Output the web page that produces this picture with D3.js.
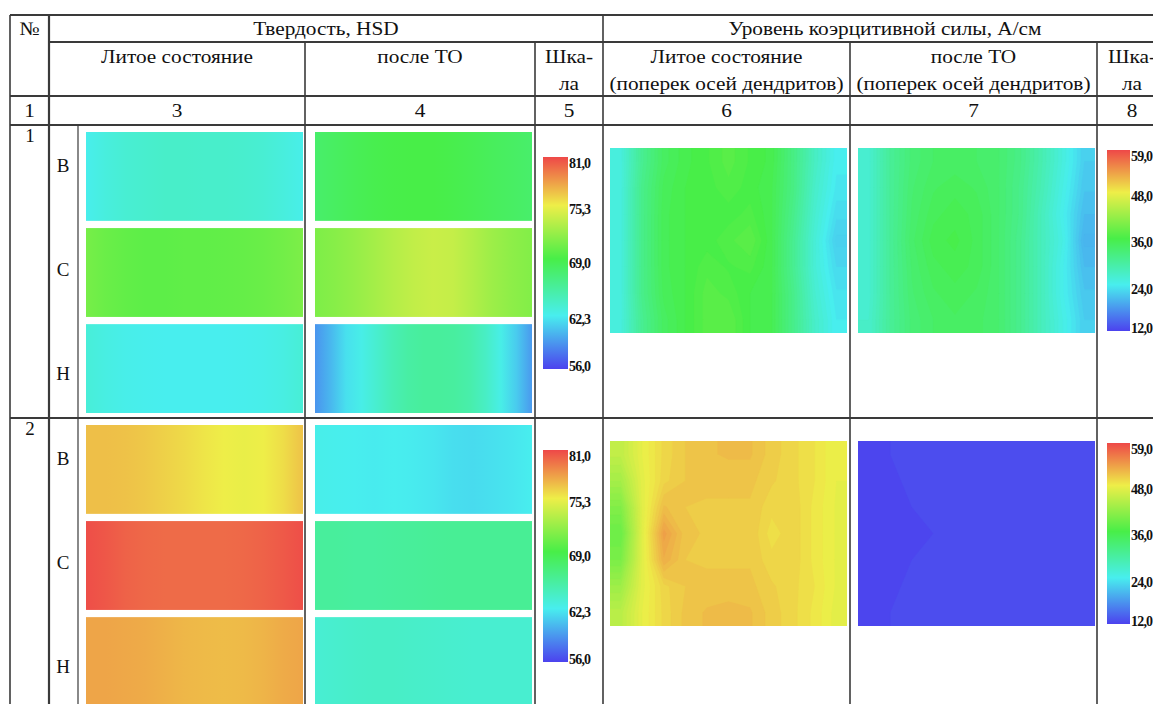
<!DOCTYPE html>
<html>
<head>
<meta charset="utf-8">
<script src="https://cdn.jsdelivr.net/npm/d3@7"></script>
<style>
  body { margin: 0; background: #fff; }
  svg text { font-family: "Liberation Serif", Tinos, "Times New Roman", "DejaVu Serif", serif; fill: #111; }
</style>
</head>
<body>
<div id="chart"></div>
<script>
// ---- data ----
var rowNums = ["1", "2"];
var zones = ["В", "С", "Н"];
var headTop = ["Твердость, HSD", "Уровень коэрцитивной силы, А/см"];
var colNums = ["1", "3", "4", "5", "6", "7", "8"];

var hardTicks = [81.0, 75.3, 69.0, 62.3, 56.0];
var forceTicks = [59.0, 48.0, 36.0, 24.0, 12.0];

// hardness HSD across strip width (left -> right), rows B, C, H
var hardCastR1 = [
  [62.4, 63.0, 63.4, 63.6, 63.8, 63.8, 63.7, 63.7, 63.6, 63.4, 63.0, 62.5],
  [70.8, 70.3, 70.0, 69.8, 69.8, 69.9, 69.9, 70.0, 70.1, 70.3, 70.6, 71.0],
  [63.2, 62.8, 62.5, 62.4, 62.3, 62.3, 62.3, 62.3, 62.4, 62.5, 62.8, 63.3]
];
var hardHeatR1 = [
  [67.6, 68.0, 68.4, 68.7, 68.9, 69.0, 69.0, 68.8, 68.5, 68.2, 67.9, 67.6],
  [71.0, 71.4, 71.9, 72.5, 73.1, 73.6, 73.9, 73.7, 73.0, 72.2, 71.6, 71.2],
  [59.0, 60.3, 61.8, 62.6, 63.6, 64.6, 65.3, 65.6, 65.6, 65.5, 65.0, 64.0, 62.6, 61.0, 59.2]
];
var hardCastR2 = [
  [76.9, 76.9, 76.8, 76.6, 76.3, 76.0, 75.6, 75.3, 75.1, 75.3, 75.9, 76.8],
  [80.8, 80.5, 80.1, 79.9, 79.8, 79.8, 79.8, 79.8, 79.9, 80.1, 80.4, 80.8],
  [77.8, 77.8, 77.7, 77.6, 77.4, 77.2, 77.1, 77.0, 77.1, 77.3, 77.6, 77.8]
];
var hardHeatR2 = [
  [62.5, 62.4, 62.3, 62.2, 62.3, 62.2, 62.0, 61.7, 61.6, 61.8, 62.0, 62.3],
  [65.6, 65.6, 65.5, 65.5, 65.6, 65.7, 65.8, 65.9, 65.9, 65.9, 65.9, 65.9],
  [63.4, 63.6, 63.8, 63.9, 63.9, 63.8, 63.7, 63.6, 63.5, 63.5, 63.5, 63.5]
];

// coercive force A/cm, 7 rows x 11 columns (top -> bottom, left -> right)
var forceCastR1 = [
  [25.5, 31.0, 34.5, 35.8, 36.5, 37.5, 36.5, 35.8, 32.0, 27.5, 24.2],
  [25.5, 31.5, 35.0, 36.0, 36.3, 37.0, 36.3, 35.5, 32.0, 27.0, 23.8],
  [25.5, 31.5, 35.2, 36.0, 36.0, 36.3, 36.8, 35.5, 31.5, 26.5, 23.0],
  [25.5, 31.5, 35.2, 36.0, 36.3, 37.0, 37.8, 35.5, 31.0, 26.0, 22.0],
  [25.5, 31.5, 35.2, 36.0, 37.0, 36.5, 36.8, 35.5, 31.0, 26.0, 22.8],
  [25.5, 31.5, 35.0, 36.0, 37.5, 37.0, 36.0, 35.5, 31.5, 26.5, 23.5],
  [25.5, 31.0, 34.5, 36.0, 37.5, 37.8, 36.0, 35.5, 31.5, 27.0, 24.0]
];
var forceHeatR1 = [
  [26.5, 30.5, 33.0, 34.0, 34.2, 34.0, 33.5, 31.8, 28.8, 25.5, 22.0],
  [26.5, 30.5, 33.3, 34.5, 35.0, 34.5, 33.5, 31.5, 28.5, 25.0, 21.5],
  [26.5, 30.5, 33.5, 35.0, 35.5, 35.0, 33.5, 31.5, 28.0, 24.5, 20.8],
  [26.5, 30.5, 33.8, 35.5, 36.0, 35.0, 33.5, 31.2, 28.0, 25.0, 20.0],
  [26.5, 30.5, 33.5, 35.0, 35.5, 35.0, 33.5, 31.2, 28.0, 24.5, 20.8],
  [26.5, 30.5, 33.3, 34.5, 35.0, 34.5, 33.5, 31.2, 28.0, 24.5, 21.5],
  [26.8, 30.5, 33.0, 34.0, 34.5, 34.2, 33.5, 31.2, 28.0, 25.0, 22.0]
];
var forceCastR2 = [
  [45.0, 47.8, 49.8, 50.8, 51.3, 51.5, 51.5, 50.5, 49.8, 49.0, 47.8],
  [43.0, 47.5, 50.0, 50.8, 51.0, 51.0, 51.0, 50.3, 49.8, 49.0, 47.8],
  [40.5, 47.3, 51.5, 50.8, 50.7, 50.7, 50.7, 49.8, 50.0, 48.8, 47.7],
  [38.8, 47.3, 53.5, 51.0, 50.7, 50.7, 50.7, 49.3, 50.0, 48.8, 47.7],
  [40.0, 47.3, 52.5, 50.8, 50.7, 50.7, 50.7, 49.8, 50.0, 48.8, 47.7],
  [42.5, 47.5, 50.0, 50.8, 51.0, 51.0, 51.0, 50.3, 49.8, 49.0, 47.7],
  [44.5, 47.8, 49.8, 51.0, 51.5, 51.7, 51.5, 50.5, 49.8, 48.8, 47.5]
];
var forceHeatR2 = [
  [12.3, 12.8, 13.1, 13.2, 13.2, 13.2, 13.1, 13.1, 13.0, 12.9, 12.9],
  [12.2, 12.7, 12.9, 13.0, 13.1, 13.1, 13.1, 13.0, 13.0, 12.9, 12.9],
  [12.2, 12.6, 12.8, 12.9, 13.0, 13.1, 13.1, 13.0, 13.0, 12.9, 12.9],
  [12.2, 12.6, 12.7, 12.8, 13.0, 13.1, 13.1, 13.0, 13.0, 12.9, 12.9],
  [12.2, 12.6, 12.8, 12.9, 13.0, 13.2, 13.2, 13.1, 13.0, 12.9, 12.9],
  [12.2, 12.7, 12.9, 13.0, 13.1, 13.2, 13.2, 13.1, 13.0, 12.9, 12.9],
  [12.3, 12.8, 13.0, 13.1, 13.2, 13.2, 13.2, 13.1, 13.0, 12.9, 12.9]
];

var rowsData = [
  {cast: hardCastR1, heat: hardHeatR1, fCast: forceCastR1, fHeat: forceHeatR1},
  {cast: hardCastR2, heat: hardHeatR2, fCast: forceCastR2, fHeat: forceHeatR2}
];

// ---- layout ----
var W = 1153, H = 704;
var colX = [10, 49, 305, 535, 603, 850, 1097, 1167];
var zoneX = 78;
var headY = [15, 42, 96, 125];
var rowTop = [125, 418, 711];
var lineColor = "#3a3a3a";
var stretch = 1.12; // source scan is a bit wider than the font

var rainbow = ["#4c42ee", "#48eeee", "#48ee48", "#eeee48", "#ee4848"];
var hardColor = d3.scaleLinear().domain(hardTicks.slice().reverse()).range(rainbow).clamp(true);
var forceColor = d3.scaleLinear().domain(forceTicks.slice().reverse()).range(rainbow).clamp(true);

var svg = d3.select("#chart").append("svg").attr("width", W).attr("height", H);
var defs = svg.append("defs");
var gradId = 0;

function widen(sel) {
  sel.each(function () {
    var len = this.getComputedTextLength();
    d3.select(this).attr("textLength", len * stretch).attr("lengthAdjust", "spacingAndGlyphs");
  });
}

// horizontal gradient strip built from a value row
function strip(g, vals, x0, x1, y0, y1) {
  var id = "g" + (gradId++);
  var pos = d3.scaleLinear().domain([0, vals.length - 1]).range([0, 100]);
  defs.append("linearGradient").attr("id", id).attr("x1", "0%").attr("x2", "100%")
    .selectAll("stop").data(vals).join("stop")
    .attr("offset", function (d, i) { return pos(i) + "%"; })
    .attr("stop-color", function (d) { return hardColor(d); });
  g.append("rect").attr("x", x0).attr("y", y0).attr("width", x1 - x0).attr("height", y1 - y0)
    .attr("fill", "url(#" + id + ")");
}

// filled contour field; edge rows/cols repeated so bands reach the border, then clipped
function field(g, grid, x0, x1, y0, y1) {
  var nx = grid[0].length, ny = grid.length;
  var padded = [grid[0]].concat(grid, [grid[ny - 1]]).map(function (row) {
    return [row[0]].concat(row, [row[nx - 1]]);
  });
  var flat = [].concat.apply([], padded);
  var vmin = d3.min(flat);
  var levels = d3.range(Math.floor(vmin) - 1, Math.ceil(d3.max(flat)) + 1, 0.6);
  var cs = d3.contours().size([nx + 2, ny + 2]).thresholds(levels)(flat);
  var sx = d3.scaleLinear().domain([1, nx + 1]).range([x0, x1]);
  var sy = d3.scaleLinear().domain([1, ny + 1]).range([y0, y1]);
  var path = d3.geoPath(d3.geoTransform({
    point: function (x, y) { this.stream.point(sx(x), sy(y)); }
  }));
  var cid = "clip" + (gradId++);
  defs.append("clipPath").attr("id", cid).append("rect")
    .attr("x", x0).attr("y", y0).attr("width", x1 - x0).attr("height", y1 - y0);
  var fg = g.append("g").attr("clip-path", "url(#" + cid + ")");
  fg.append("rect").attr("x", x0).attr("y", y0).attr("width", x1 - x0).attr("height", y1 - y0)
    .attr("fill", forceColor(vmin));
  fg.selectAll("path").data(cs).join("path")
    .attr("d", path)
    .attr("fill", function (d) { return forceColor(Math.max(d.value, vmin)); })
    .attr("stroke", function (d) { return forceColor(Math.max(d.value, vmin)); })
    .attr("stroke-width", 0.3);
}

function colorBar(g, color, ticks, x0, x1, y0, y1) {
  var id = "cb" + (gradId++);
  var y = d3.scaleLinear().domain([ticks[0], ticks[ticks.length - 1]]).range([y0, y1]);
  var off = d3.scaleLinear().domain([ticks[0], ticks[ticks.length - 1]]).range([0, 100]);
  defs.append("linearGradient").attr("id", id).attr("x1", "0%").attr("x2", "0%").attr("y1", "0%").attr("y2", "100%")
    .selectAll("stop").data(ticks).join("stop")
    .attr("offset", function (d) { return off(d) + "%"; })
    .attr("stop-color", function (d) { return color(d); });
  g.append("rect").attr("x", x0).attr("y", y0).attr("width", x1 - x0).attr("height", y1 - y0)
    .attr("fill", "url(#" + id + ")");
  g.append("g").selectAll("text").data(ticks).join("text")
    .attr("x", x1 + 1)
    .attr("y", function (d) { return Math.max(y0 + 6, Math.min(y1 - 3, y(d) + 4)); })
    .attr("dy", "0.35em")
    .style("font-size", "14px").style("font-weight", "bold").style("letter-spacing", "-0.8px")
    .text(function (d) { return d.toFixed(1).replace(".", ","); });
}

// ---- data rows ----
rowsData.forEach(function (r, ri) {
  var top = rowTop[ri];
  var g = svg.append("g");
  var band = d3.scaleBand().domain(zones).range([top + 7, top + 288]).paddingInner(0.075);

  zones.forEach(function (z, zi) {
    var y0 = band(z), y1 = y0 + band.bandwidth();
    strip(g, r.cast[zi], zoneX + 8, colX[2] - 2, y0, y1);
    strip(g, r.heat[zi], colX[2] + 10, colX[3] - 3, y0, y1);
    g.append("text").attr("x", 63).attr("y", top + 40 + zi * 104).attr("dy", "0.35em")
      .attr("text-anchor", "middle").style("font-size", "19px").text(z);
  });

  colorBar(g, hardColor, hardTicks, colX[3] + 8, colX[3] + 33, top + 32, top + 244);
  field(g, r.fCast, colX[4] + 7, colX[5] - 3, top + 23, top + 208);
  field(g, r.fHeat, colX[5] + 8, colX[6] - 2, top + 23, top + 208);
  colorBar(g, forceColor, forceTicks, colX[6] + 10, colX[6] + 33, top + 25, top + 206);

  g.append("text").attr("x", 30).attr("y", top + 10).attr("dy", "0.35em")
    .attr("text-anchor", "middle").style("font-size", "19px").text(rowNums[ri]);
});

// ---- header ----
var hd = svg.append("g").style("font-size", "19px").attr("text-anchor", "middle");
hd.append("text").attr("x", (colX[0] + colX[1]) / 2).attr("y", 28).attr("dy", "0.35em").text("№");
hd.append("text").attr("x", (colX[1] + colX[4]) / 2).attr("y", 28).attr("dy", "0.35em").text(headTop[0]);
hd.append("text").attr("x", (colX[4] + colX[7]) / 2).attr("y", 28).attr("dy", "0.35em").text(headTop[1]);

var sub = [
  {c: 1, lines: ["Литое состояние"]},
  {c: 2, lines: ["после ТО"]},
  {c: 3, lines: ["Шка-", "ла"]},
  {c: 4, lines: ["Литое состояние", "(поперек осей дендритов)"]},
  {c: 5, lines: ["после ТО", "(поперек осей дендритов)"]},
  {c: 6, lines: ["Шка-", "ла"]}
];
sub.forEach(function (s) {
  s.lines.forEach(function (t, i) {
    hd.append("text").attr("x", (colX[s.c] + colX[s.c + 1]) / 2).attr("y", 56 + i * 27)
      .attr("dy", "0.35em").text(t);
  });
});
colNums.forEach(function (t, i) {
  hd.append("text").attr("x", (colX[i] + colX[i + 1]) / 2).attr("y", 110).attr("dy", "0.35em").text(t);
});
hd.selectAll("text").call(widen);

// ---- grid lines ----
var hLines = [[headY[0], colX[0]], [headY[1], colX[1]], [headY[2], colX[0]], [headY[3], colX[0]], [rowTop[1], colX[0]]];
var vLines = [[colX[0], headY[0]], [colX[1], headY[0]], [colX[4], headY[0]],
  [colX[2], headY[1]], [colX[3], headY[1]], [colX[5], headY[1]], [colX[6], headY[1]], [zoneX, headY[3]]];
var lg = svg.append("g").attr("stroke", lineColor).attr("fill", "none");
lg.selectAll("line.h").data(hLines).join("line").attr("class", "h")
  .attr("x1", function (d) { return d[1]; }).attr("x2", colX[7])
  .attr("y1", function (d) { return d[0]; }).attr("y2", function (d) { return d[0]; })
  .attr("stroke-width", function (d, i) { return i == 0 ? 2.2 : 1.8; });
lg.selectAll("line.v").data(vLines).join("line").attr("class", "v")
  .attr("x1", function (d) { return d[0]; }).attr("x2", function (d) { return d[0]; })
  .attr("y1", function (d) { return d[1]; }).attr("y2", H)
  .attr("stroke-width", function (d) { return d[0] == colX[1] ? 2.2 : (d[0] == zoneX ? 1.2 : 1.6); });
</script>
</body>
</html>
